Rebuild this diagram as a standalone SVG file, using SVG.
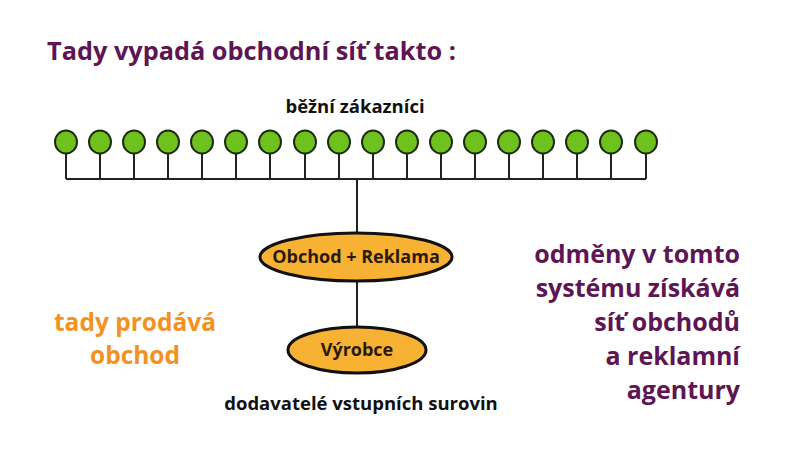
<svg xmlns="http://www.w3.org/2000/svg" width="800" height="450" viewBox="0 0 800 450">
<defs>
<style>
text{font-family:"Open Sans","Noto Sans","Liberation Sans",sans-serif;font-weight:bold}
.title{font-size:25.3px;fill:#5e1553}
.lbl{font-size:18.5px;fill:#111}
.node{font-size:18px;fill:#2a1a0a}
.orange{font-size:24.5px;fill:#f29222}
.purple{font-size:25px;fill:#5e1553}
.c{fill:#6fc21d;stroke:#1e2a10;stroke-width:2}
.e{fill:#f7b234;stroke:#111;stroke-width:3}
.ln{stroke:#222;stroke-width:2;fill:none}
</style>
</defs>
<rect width="800" height="450" fill="#fff"/>
<text class="title" x="47" y="60">Tady vypadá obchodní síť takto :</text>
<text class="lbl" x="355" y="113" text-anchor="middle">běžní zákazníci</text>
<g id="connectors">
<path class="ln" d="M66 179H646M357 179V233M357 282V327"/>
<path class="ln" d="M66 142V179M100 142V179M134 142V179M168 142V179M202 142V179M236 142V179M270 142V179M305 142V179M339 142V179M373 142V179M407 142V179M441 142V179M475 142V179M509 142V179M543 142V179M577 142V179M611 142V179M646 142V179"/>
</g>
<g id="customers">
<ellipse class="c" cx="66" cy="142" rx="11" ry="11.5"/>
<ellipse class="c" cx="100" cy="142" rx="11" ry="11.5"/>
<ellipse class="c" cx="134" cy="142" rx="11" ry="11.5"/>
<ellipse class="c" cx="168" cy="142" rx="11" ry="11.5"/>
<ellipse class="c" cx="202" cy="142" rx="11" ry="11.5"/>
<ellipse class="c" cx="236" cy="142" rx="11" ry="11.5"/>
<ellipse class="c" cx="270" cy="142" rx="11" ry="11.5"/>
<ellipse class="c" cx="305" cy="142" rx="11" ry="11.5"/>
<ellipse class="c" cx="339" cy="142" rx="11" ry="11.5"/>
<ellipse class="c" cx="373" cy="142" rx="11" ry="11.5"/>
<ellipse class="c" cx="407" cy="142" rx="11" ry="11.5"/>
<ellipse class="c" cx="441" cy="142" rx="11" ry="11.5"/>
<ellipse class="c" cx="475" cy="142" rx="11" ry="11.5"/>
<ellipse class="c" cx="509" cy="142" rx="11" ry="11.5"/>
<ellipse class="c" cx="543" cy="142" rx="11" ry="11.5"/>
<ellipse class="c" cx="577" cy="142" rx="11" ry="11.5"/>
<ellipse class="c" cx="611" cy="142" rx="11" ry="11.5"/>
<ellipse class="c" cx="646" cy="142" rx="11" ry="11.5"/>
</g>
<g id="obchod">
<ellipse class="e" cx="356" cy="257" rx="96" ry="24"/>
<text class="node" x="356" y="263" text-anchor="middle">Obchod + Reklama</text>
</g>
<g id="vyrobce">
<ellipse class="e" cx="357" cy="350" rx="69" ry="23"/>
<text class="node" x="357" y="356" text-anchor="middle">Výrobce</text>
</g>
<text class="lbl" x="361" y="410" text-anchor="middle">dodavatelé vstupních surovin</text>
<text class="orange" x="135" y="331" text-anchor="middle">tady prodává</text>
<text class="orange" x="135" y="364" text-anchor="middle">obchod</text>
<g text-anchor="end">
<text class="purple" x="740" y="263">odměny v tomto</text>
<text class="purple" x="740" y="297">systému získává</text>
<text class="purple" x="740" y="331">síť obchodů</text>
<text class="purple" x="740" y="365">a reklamní</text>
<text class="purple" x="740" y="399">agentury</text>
</g>
</svg>
